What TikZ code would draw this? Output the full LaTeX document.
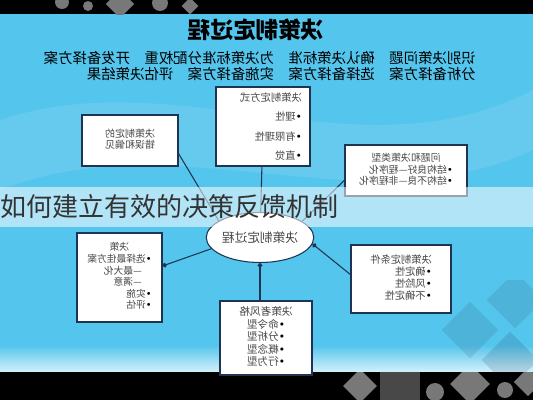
\documentclass[tikz,border=0pt]{standalone}
\usepackage{fontspec}
\usepackage{graphicx}
\setmainfont{Noto Sans CJK SC}
\setsansfont{Noto Sans CJK SC}
\newfontfamily\bulletfont{DejaVu Sans}
\usetikzlibrary{positioning}
\usetikzlibrary{shapes.geometric}
\usetikzlibrary{arrows.meta}

\definecolor{slideblue}{RGB}{84,197,236}
\definecolor{linknavy}{RGB}{30,52,82}
\definecolor{boxtext}{RGB}{72,72,72}
\definecolor{decogray}{RGB}{120,120,120}

% mirrored text block, as the slide shows it
\newcommand{\mirrored}[2][l]{\reflectbox{\begin{tabular}{@{}#1@{}}#2\end{tabular}}}
\newcommand{\bul}{{\bulletfont\textcolor{black}{•}}}

\tikzset{every picture/.style={/utils/exec={\sffamily}}}
\tikzset{
  infobox/.style={draw=linknavy, fill=white, line width=0.8pt, text=boxtext, inner sep=0pt},
  link/.style={draw=linknavy, line width=0.8pt},
  deco/.style={fill=decogray, draw=none}
}

\begin{document}
\begin{tikzpicture}[x=0.75pt, y=-0.75pt]
  \useasboundingbox (0,0) rectangle (533,400);

  % background of the slide
  \fill[slideblue] (0,0) rectangle (533,400);
  \fill[white, opacity=0.10] (0,120) .. controls (180,60) and (360,180) .. (533,90) -- (533,150) .. controls (360,230) and (180,120) .. (0,190) -- cycle;
  \shade[top color=slideblue, bottom color=white!75!slideblue] (0,345) rectangle (533,372);
  \fill[black] (0,0) rectangle (533,14);
  \fill[black] (0,372) rectangle (533,400);
  \begin{scope}
    \clip (0,0) rectangle (533,14);
    \fill[deco] (62,2) circle (7);
    \fill[deco] (88,6) circle (5);
    \fill[deco, rotate around={45:(120,4)}] (110,-6) rectangle (130,14);
    \fill[deco] (160,3) circle (8);
    \fill[deco, rotate around={45:(190,6)}] (184,0) rectangle (196,12);
  \end{scope}
  \begin{scope}
    \clip (0,372) rectangle (533,400);
    \fill[deco, rotate around={45:(360,386)}] (348,374) rectangle (372,398);
    \fill[decogray!60!black] (380,372) rectangle (420,400);
    \fill[deco] (435,392) circle (9);
    \fill[deco, rotate around={45:(470,384)}] (456,370) rectangle (484,398);
    \fill[deco] (505,390) circle (8);
    \fill[deco, rotate around={45:(528,382)}] (518,372) rectangle (538,392);
  \end{scope}
  \begin{scope}
    \clip (420,280) rectangle (533,372);
    \fill[linknavy, opacity=0.12, rotate around={45:(470,330)}] (450,310) rectangle (490,350);
    \fill[linknavy, opacity=0.12, rotate around={45:(515,300)}] (495,280) rectangle (535,320);
    \fill[linknavy, opacity=0.15, rotate around={45:(510,360)}] (490,340) rectangle (530,380);
  \end{scope}

  % heading and the eight steps
  \node (title) at (256,30) {\fontsize{17}{17}\selectfont\bfseries\reflectbox{决策制定过程}};
  \node[anchor=east, inner sep=0pt] (steps) at (476,67)
    {\fontsize{10.8}{9.8}\selectfont\mirrored{识别决策问题　确认决策标准　为决策标准分配权重　开发备择方案\\
     分析备择方案　选择备择方案　实施备择方案　评估决策结果}};

  % the boxes round the process
  \node[infobox, minimum width=70.5pt, minimum height=59.25pt] (meth) at (263,126.5)
    {\fontsize{7.7}{14.6}\selectfont\hspace{12pt}\mirrored{决策制定方式\\\bul{}理性\\\bul{}有限理性\\\bul{}直觉}};
  \node[infobox, minimum width=72pt, minimum height=38.25pt] (err) at (130,140.5)
    {\fontsize{7.5}{7.2}\selectfont\mirrored[c]{决策制定的\\错误和偏见}};
  \node[infobox, minimum width=91.5pt, minimum height=38.25pt] (types) at (406,170.5)
    {\fontsize{7.4}{7.3}\selectfont\mirrored{\multicolumn{1}{c}{问题和决策类型}\\\bul{}结构良好—程序化\\\bul{}结构不良—非程序化}};
  \node[infobox, minimum width=63.75pt, minimum height=66.75pt] (decis) at (119.5,277.5)
    {\fontsize{7.3}{8.4}\selectfont\mirrored{\multicolumn{1}{c}{决策}\\\bul{}选择最佳方案\\\quad—最大化\\\quad—满意\\\bul{}实施\\\bul{}评估}};
  \node[infobox, minimum width=75pt, minimum height=51pt] (cond) at (401,279)
    {\fontsize{7.7}{9}\selectfont\mirrored{决策制定条件\\\bul{}确定性\\\bul{}风险性\\\bul{}不确定性}};
  \node[infobox, minimum width=69pt, minimum height=55.5pt] (style) at (266,338)
    {\fontsize{8}{9}\selectfont\mirrored[c]{决策者风格\\\bul{}命令型\\\bul{}分析型\\\bul{}概念型\\\bul{}行为型}};

  \node[ellipse, infobox, minimum width=72pt, minimum height=37.5pt] (proc) at (260,237.5)
    {\fontsize{9.5}{9.5}\selectfont\reflectbox{决策制定过程}};

  % connectors
  \draw[link] (meth) -- (proc);
  \draw[link] (err.-15) -- (proc.158);
  \draw[link] (types.189) -- (proc.21);
  \draw[link, {Circle[length=3.5pt]}-] (decis.15) -- (proc.193);
  \draw[link, -{Circle[length=3.5pt]}] (cond.175) -- (proc.-7);
  \draw[link, {Circle[length=3.5pt]}-] (proc.south) -- (proc.south |- style.north);

  % caption band over the slide
  \fill[white, opacity=0.55] (0,187) rectangle (533,227);
  \node[anchor=west, inner sep=0pt, text=black!80] (caption) at (0,207)
    {\fontsize{19.5}{19.5}\selectfont 如何建立有效的决策反馈机制};
\end{tikzpicture}
\end{document}
